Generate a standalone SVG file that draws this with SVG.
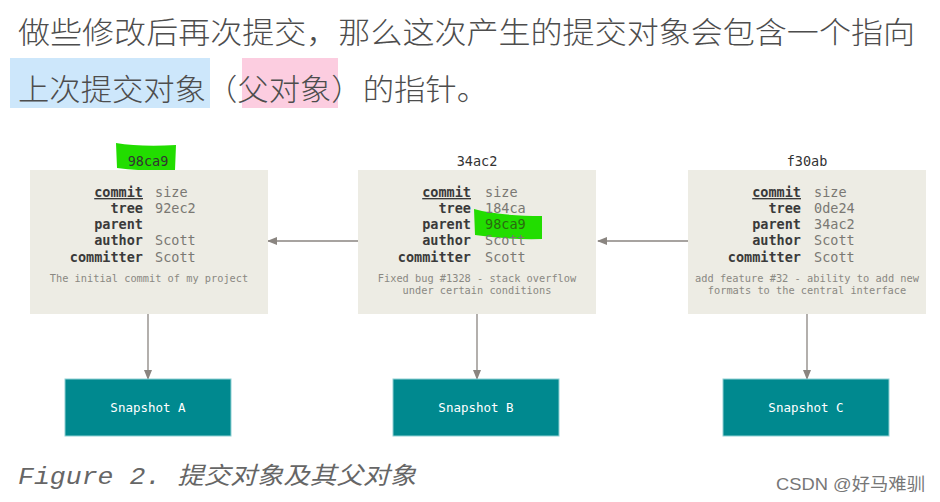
<svg xmlns="http://www.w3.org/2000/svg" width="940" height="502" viewBox="0 0 940 502">
<style>
.t{font-family:"Noto Sans CJK SC","Liberation Sans",sans-serif;font-size:30px;font-weight:300;fill:#4d4d4d}
.box{fill:#edece4}
.snap{fill:#00898f;stroke:#8fd0d3;stroke-width:1}
.k{font-family:"DejaVu Sans Mono",monospace;font-size:13.5px;font-weight:bold;fill:#3a3a3a;text-anchor:end}
.v{font-family:"DejaVu Sans Mono",monospace;font-size:13.5px;fill:#7a7873}
.m{font-family:"DejaVu Sans Mono",monospace;font-size:10.3px;fill:#8a8882;text-anchor:middle}
.h{font-family:"DejaVu Sans Mono",monospace;font-size:13.5px;fill:#333;text-anchor:middle}
.s{font-family:"DejaVu Sans Mono",monospace;font-size:12.5px;fill:#fff;text-anchor:middle}
.ln{stroke:#8a8580;stroke-width:1.3;fill:none}
</style>
<defs><marker id="a" markerWidth="10" markerHeight="8" refX="9" refY="4" orient="auto" markerUnits="userSpaceOnUse"><path d="M0,0 L10,4 L0,8 Z" fill="#8a8580"/></marker></defs>
<rect width="940" height="502" fill="#fff"/>
<g id="heading">
<rect x="10" y="58" width="200" height="50" fill="#cde7fb"/>
<rect x="242" y="58" width="96" height="50" fill="#fccde0"/>
<text class="t" x="18" y="43" textLength="897" lengthAdjust="spacingAndGlyphs">做些修改后再次提交，那么这次产生的提交对象会包含一个指向</text>
<text class="t" x="18" y="100" textLength="470" lengthAdjust="spacingAndGlyphs">上次提交对象（父对象）的指针。</text>
</g>
<g id="connectors">
<line class="ln" x1="358" y1="241" x2="268" y2="241" marker-end="url(#a)"/>
<line class="ln" x1="688" y1="241" x2="598" y2="241" marker-end="url(#a)"/>
<line class="ln" x1="148" y1="314" x2="148" y2="379" marker-end="url(#a)"/>
<line class="ln" x1="477" y1="314" x2="477" y2="379" marker-end="url(#a)"/>
<line class="ln" x1="807" y1="314" x2="807" y2="379" marker-end="url(#a)"/>
</g>
<g id="commit-98ca9">
<path d="M116,143 Q140,147 176,145 L175,170 Q150,172 117,168 Z" fill="#22dd00"/>
<text class="h" x="148" y="166">98ca9</text>
<rect class="box" x="30" y="170" width="238" height="144"/>
<text class="k" x="143" y="197" text-decoration="underline">commit</text><text class="v" x="155" y="197">size</text>
<text class="k" x="143" y="213">tree</text><text class="v" x="155" y="213">92ec2</text>
<text class="k" x="143" y="229">parent</text>
<text class="k" x="143" y="245">author</text><text class="v" x="155" y="245">Scott</text>
<text class="k" x="143" y="262">committer</text><text class="v" x="155" y="262">Scott</text>
<text class="m" x="149" y="282">The initial commit of my project</text>
</g>
<g id="commit-34ac2">
<text class="h" x="477" y="166">34ac2</text>
<rect class="box" x="358" y="170" width="238" height="144"/>
<path d="M474,209 Q500,216 542,216 L542,239 Q510,240 475,235 Z" fill="#22dd00"/>
<text class="k" x="471" y="197" text-decoration="underline">commit</text><text class="v" x="485" y="197">size</text>
<text class="k" x="471" y="213">tree</text><text class="v" x="485" y="213">184ca</text>
<text class="k" x="471" y="229">parent</text><text class="v" x="485" y="229" style="fill:#2a6a10">98ca9</text>
<text class="k" x="471" y="245">author</text><text class="v" x="485" y="245">Scott</text>
<text class="k" x="471" y="262">committer</text><text class="v" x="485" y="262">Scott</text>
<text class="m" x="477" y="282">Fixed bug #1328 - stack overflow</text>
<text class="m" x="477" y="294">under certain conditions</text>
</g>
<g id="commit-f30ab">
<text class="h" x="807" y="166">f30ab</text>
<rect class="box" x="688" y="170" width="238" height="144"/>
<text class="k" x="801" y="197" text-decoration="underline">commit</text><text class="v" x="814" y="197">size</text>
<text class="k" x="801" y="213">tree</text><text class="v" x="814" y="213">0de24</text>
<text class="k" x="801" y="229">parent</text><text class="v" x="814" y="229">34ac2</text>
<text class="k" x="801" y="245">author</text><text class="v" x="814" y="245">Scott</text>
<text class="k" x="801" y="262">committer</text><text class="v" x="814" y="262">Scott</text>
<text class="m" x="807" y="282" textLength="224" lengthAdjust="spacingAndGlyphs">add feature #32 - ability to add new</text>
<text class="m" x="807" y="294">formats to the central interface</text>
</g>
<g id="snapshot-a"><rect class="snap" x="65" y="379" width="166" height="57"/><text class="s" x="148" y="412">Snapshot A</text></g>
<g id="snapshot-b"><rect class="snap" x="393" y="379" width="166" height="57"/><text class="s" x="476" y="412">Snapshot B</text></g>
<g id="snapshot-c"><rect class="snap" x="723" y="379" width="166" height="57"/><text class="s" x="806" y="412">Snapshot C</text></g>
<g id="caption">
<text x="18" y="484" font-family="'Liberation Mono','Noto Sans CJK SC',monospace" font-style="italic" font-size="24" fill="#666" textLength="398" lengthAdjust="spacingAndGlyphs">Figure 2. 提交对象及其父对象</text>
<text x="776" y="490" font-family="'Liberation Sans','Noto Sans CJK SC',sans-serif" font-size="17" fill="#777" textLength="149" lengthAdjust="spacingAndGlyphs">CSDN @好马难驯</text>
</g>
</svg>
